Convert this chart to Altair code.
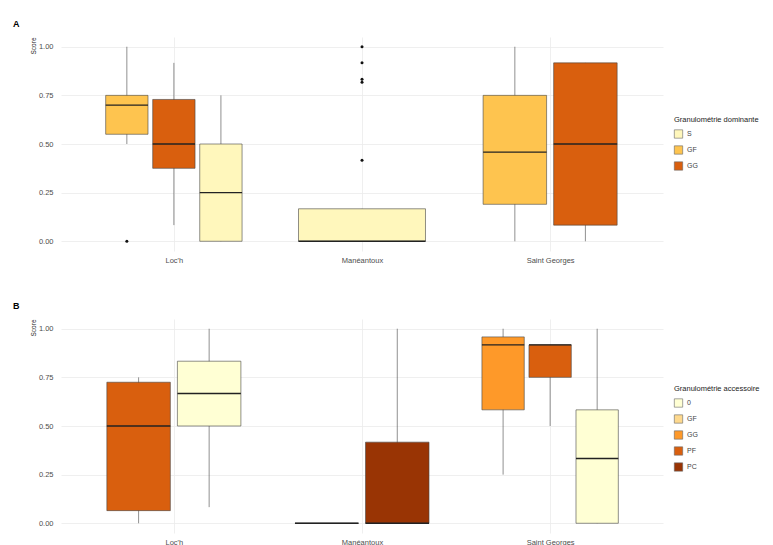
import altair as alt
import pandas as pd

sites = ["Loc'h", "Manéantoux", "Saint Georges"]

# Panel A : Granulométrie dominante
a_site = ["Loc'h", "Loc'h", "Loc'h", "Manéantoux", "Saint Georges", "Saint Georges"]
a_group = ["GF", "GG", "S", "S", "GF", "GG"]
a_ymin = [0.50, 0.083, 0.00, 0.00, 0.00, 0.00]
a_lower = [0.55, 0.375, 0.00, 0.00, 0.19, 0.083]
a_mid = [0.70, 0.50, 0.25, 0.00, 0.458, 0.50]
a_upper = [0.75, 0.729, 0.50, 0.167, 0.75, 0.917]
a_ymax = [1.00, 0.917, 0.75, 0.167, 1.00, 0.917]
a_out_site = ["Loc'h", "Manéantoux", "Manéantoux", "Manéantoux", "Manéantoux", "Manéantoux"]
a_out_group = ["GF", "S", "S", "S", "S", "S"]
a_out_val = [0.00, 1.00, 0.917, 0.833, 0.818, 0.417]
a_domain = ["S", "GF", "GG"]
a_colors = ["#FFF7BC", "#FEC44F", "#D95F0E"]

# Panel B : Granulométrie accessoire
b_site = ["Loc'h", "Loc'h", "Manéantoux", "Manéantoux", "Saint Georges", "Saint Georges", "Saint Georges"]
b_group = ["PF", "0", "GF", "PC", "GG", "PF", "0"]
b_ymin = [0.00, 0.083, 0.00, 0.00, 0.25, 0.50, 0.00]
b_lower = [0.065, 0.50, 0.00, 0.00, 0.583, 0.75, 0.00]
b_mid = [0.50, 0.667, 0.00, 0.00, 0.917, 0.917, 0.333]
b_upper = [0.725, 0.833, 0.00, 0.417, 0.958, 0.917, 0.583]
b_ymax = [0.75, 1.00, 0.00, 1.00, 1.00, 0.917, 1.00]
b_domain = ["0", "GF", "GG", "PF", "PC"]
b_colors = ["#FFFFD4", "#FED98E", "#FE9929", "#D95F0E", "#993404"]

FONT = "Liberation Sans"
DODGE = 0.75


def dodge(site_list, group_list):
    """ggplot-like dodge2: positions computed from number of groups per site."""
    centers, lefts, rights = [], [], []
    for s, g in zip(site_list, group_list):
        groups = [gg for ss, gg in zip(site_list, group_list) if ss == s]
        n = len(groups)
        k = groups.index(g)
        i = sites.index(s) + 1
        slot = DODGE / n
        c = i + (k - (n - 1) / 2) * slot
        hw = slot * 0.9 / 2
        centers.append(c)
        lefts.append(c - hw)
        rights.append(c + hw)
    return centers, lefts, rights


def panel(site_list, group_list, ymin, lower, mid, upper, ymax, domain, colors,
          legend_title, field, letter, legend_y, out=None):
    c, l, r = dodge(site_list, group_list)
    df = pd.DataFrame({"site": site_list, field: group_list, "ymin": ymin, "lower": lower,
                       "mid": mid, "upper": upper, "ymax": ymax, "c": c, "l": l, "r": r})
    xscale = alt.Scale(domain=[0.4, 3.6], nice=False, zero=False)
    yscale = alt.Scale(domain=[-0.05, 1.05], nice=False, zero=False)
    label_expr = "datum.value == 1 ? \"Loc'h\" : datum.value == 2 ? 'Manéantoux' : datum.value == 3 ? 'Saint Georges' : ''"
    xaxis = alt.Axis(values=[1, 2, 3], labelExpr=label_expr, title=None, domain=False, ticks=False,
                     grid=True, gridColor="#EBEBEB", gridWidth=0.8, labelFont=FONT, labelFontSize=7.5,
                     labelColor="#4D4D4D", labelPadding=5)
    yvals = [i * 0.125 for i in range(9)]
    yaxis = alt.Axis(values=yvals, labelExpr="(datum.value * 4) % 1 == 0 ? format(datum.value, '.2f') : ''",
                     title="Score", titleAnchor="end", titleFont=FONT, titleFontSize=6.5,
                     titleFontWeight="normal", titleColor="#222", titlePadding=2,
                     domain=False, ticks=False, grid=True, gridColor="#EBEBEB", gridWidth=0.8,
                     labelFont=FONT, labelFontSize=7.5, labelColor="#4D4D4D", labelPadding=8)
    base = alt.Chart(df)
    whisk = base.mark_rule(color="#444", strokeWidth=0.6).encode(
        x=alt.X("c:Q", scale=xscale, axis=xaxis),
        y=alt.Y("ymin:Q", scale=yscale, axis=yaxis),
        y2="ymax:Q",
    )
    box = base.mark_bar(stroke="#444", strokeWidth=0.6).encode(
        x=alt.X("l:Q", scale=xscale),
        x2="r:Q",
        y=alt.Y("lower:Q", scale=yscale),
        y2="upper:Q",
        color=alt.Color(f"{field}:N", scale=alt.Scale(domain=domain, range=colors),
                        legend=alt.Legend(title=legend_title, orient="none", legendX=613, legendY=legend_y,
                                          symbolType="square", symbolSize=70,
                                          symbolStrokeColor="#666", symbolStrokeWidth=0.6,
                                          titleFont=FONT, titleFontSize=7.5, titleFontWeight="normal",
                                          titleColor="#222", labelFont=FONT, labelFontSize=7,
                                          labelColor="#444", rowPadding=5, titlePadding=6)),
    )
    med = base.mark_rule(color="#222", strokeWidth=1.3).encode(
        x=alt.X("l:Q", scale=xscale), x2="r:Q", y=alt.Y("mid:Q", scale=yscale)
    )
    layers = [whisk, box, med]
    if out is not None:
        os_, og, ov = out
        oc, _, _ = dodge(site_list, group_list)
        pos = {(s, g): cc for s, g, cc in zip(site_list, group_list, oc)}
        odf = pd.DataFrame({"site": os_, field: og, "v": ov, "c": [pos[(s, g)] for s, g in zip(os_, og)]})
        pts = alt.Chart(odf).mark_circle(size=9, color="#111", opacity=1).encode(
            x=alt.X("c:Q", scale=xscale), y=alt.Y("v:Q", scale=yscale)
        )
        layers.append(pts)
    return alt.layer(*layers).properties(
        width=602, height=214,
        title=alt.TitleParams(letter, anchor="start", frame="group", dx=-48, offset=8,
                              font=FONT, fontSize=9, fontWeight="bold", color="#000"),
    )


pa = panel(a_site, a_group, a_ymin, a_lower, a_mid, a_upper, a_ymax, a_domain, a_colors,
           "Granulométrie dominante", "GA", "A", 79, out=(a_out_site, a_out_group, a_out_val))
pb = panel(b_site, b_group, b_ymin, b_lower, b_mid, b_upper, b_ymax, b_domain, b_colors,
           "Granulométrie accessoire", "GB", "B", 66)

chart = alt.vconcat(pa, pb, spacing=38).resolve_scale(color="independent").resolve_legend(
    color="independent").properties(
    padding={"left": 5, "top": 12, "right": 5, "bottom": 5}
).configure(background="white").configure_view(stroke=None)

chart.save("out.html", embed_options={"renderer": "svg", "actions": False})
